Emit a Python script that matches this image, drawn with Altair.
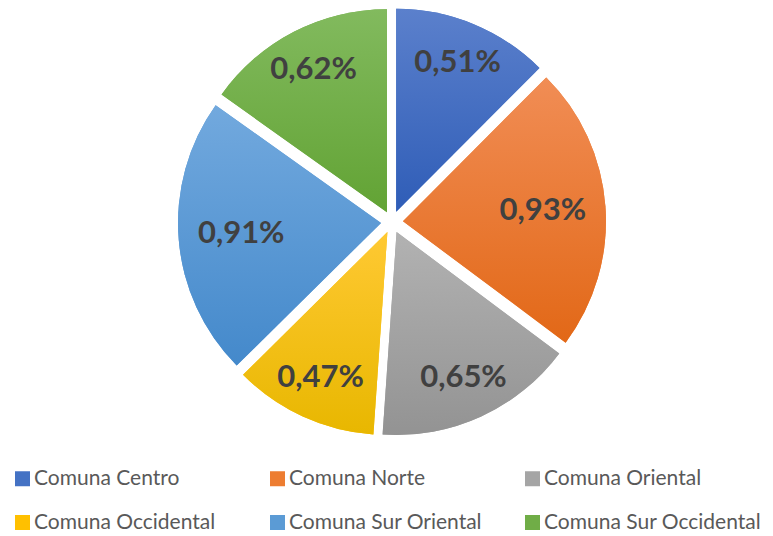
import altair as alt
import pandas as pd

categories = ["Comuna Centro", "Comuna Norte", "Comuna Oriental",
              "Comuna Occidental", "Comuna Sur Oriental", "Comuna Sur Occidental"]
values = [0.51, 0.93, 0.65, 0.47, 0.91, 0.62]

# styles
base_colors = ["#4472C4", "#ED7D31", "#A5A5A5", "#FFC000", "#5B9BD5", "#70AD47"]
top_colors = ["#5b80cc", "#f18d55", "#b2b2b2", "#ffc933", "#72a9de", "#82ba5e"]
bottom_colors = ["#2f5db7", "#e26817", "#939393", "#e8b700", "#4489cb", "#62a334"]

df = pd.DataFrame({"cat": categories, "v": values, "i": list(range(len(values)))})

EXPLODE = 11
RADIUS = 203

base = alt.Chart(df).transform_window(
    cum="sum(v)", sort=[alt.SortField("i")], frame=[None, 0]
).transform_joinaggregate(
    total="sum(v)"
).transform_calculate(
    a0="2*PI*(datum.cum - datum.v)/datum.total",
    a1="2*PI*datum.cum/datum.total",
).transform_calculate(
    mid="(datum.a0 + datum.a1)/2"
).transform_calculate(
    ex=f"{EXPLODE}*sin(datum.mid)",
    ey=f"{EXPLODE}*cos(datum.mid)",
    lr="172 - 21*pow(abs(sin(datum.mid)), 4)",
    label="replace(format(datum.v, '.2f'), '.', ',') + '%'",
).transform_calculate(
    lx="datum.lr*sin(datum.mid)",
    ly="datum.lr*cos(datum.mid)",
)

xs = alt.Scale(domain=[-384, 373])
ys = alt.Scale(domain=[-227, 213])

legend_layer = base.mark_arc(radius=RADIUS, strokeWidth=0).encode(
    x=alt.X("ex:Q", scale=xs, axis=None),
    y=alt.Y("ey:Q", scale=ys, axis=None),
    theta=alt.Theta("a0:Q", scale=None),
    theta2="a1:Q",
    color=alt.Color("cat:N", sort=categories,
                    scale=alt.Scale(domain=categories, range=base_colors),
                    legend=alt.Legend(
                        title=None, orient="none", legendX=4, legendY=459,
                        direction="horizontal", padding=0,
                        columns=3, gridAlign="all", symbolType="square",
                        symbolSize=225, symbolStrokeWidth=0, labelFont="Lato",
                        labelFontSize=21, labelColor="#595959", labelOffset=1,
                        labelLimit=400,
                        columnPadding=15, rowPadding=22)),
)

layers = [legend_layer]
for cat, c1, c2 in zip(categories, top_colors, bottom_colors):
    grad = alt.Gradient(gradient="linear",
                        stops=[alt.GradientStop(color=c1, offset=0),
                               alt.GradientStop(color=c2, offset=1)],
                        x1=0, x2=0, y1=0, y2=1)
    layers.append(
        base.transform_filter(alt.datum.cat == cat).mark_arc(
            radius=RADIUS, fill=grad, strokeWidth=0
        ).encode(
            x=alt.X("ex:Q", scale=xs, axis=None),
            y=alt.Y("ey:Q", scale=ys, axis=None),
            theta=alt.Theta("a0:Q", scale=None),
            theta2="a1:Q",
        )
    )

labels = base.mark_text(font="Lato", fontWeight="bold", fontSize=31,
                        color="#404040", baseline="middle", align="center").encode(
    x=alt.X("lx:Q", scale=xs, axis=None),
    y=alt.Y("ly:Q", scale=ys, axis=None),
    text="label:N",
)
layers.append(labels)

chart = alt.layer(*layers).properties(
    width=757, height=440, padding=0, background="white"
).configure_view(strokeWidth=0, stroke=None)

chart.save("out.html", embed_options={"renderer": "svg", "actions": False})
